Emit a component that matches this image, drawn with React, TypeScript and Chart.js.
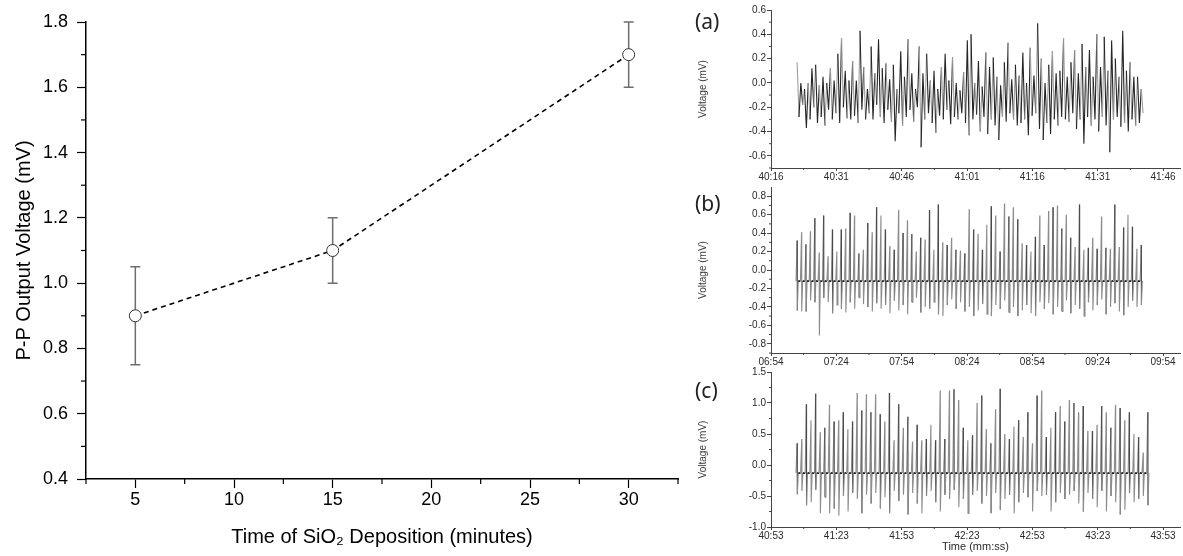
import React, { useEffect, useRef } from 'react';
import { Chart, registerables } from 'chart.js';

Chart.register(...registerables);

// ---------------- Main chart data ----------------
const DEPOSITION_MINUTES = [5, 15, 30];
const PP_VOLTAGE = [0.9, 1.1, 1.7];
const PP_ERROR = [0.15, 0.1, 0.1];
const MAIN_X_TICKS = [5, 10, 15, 20, 25, 30];
const MAIN_X_MINOR = [2.5, 7.5, 12.5, 17.5, 22.5, 27.5, 32.5];
const MAIN_Y_TICKS = [0.4, 0.6, 0.8, 1.0, 1.2, 1.4, 1.6, 1.8];
const MAIN_Y_MINOR = [0.5, 0.7, 0.9, 1.1, 1.3, 1.5, 1.7];

// ---------------- Panel (a) ----------------
const A_TIME_TICKS = ['40:16', '40:31', '40:46', '41:01', '41:16', '41:31', '41:46'];
const A_Y_TICKS = [-0.6, -0.4, -0.2, 0.0, 0.2, 0.4, 0.6];
const A_Y_MINOR = [-0.7, -0.5, -0.3, -0.1, 0.1, 0.3, 0.5];
const A_START = '40:22';
const A_END = '41:41';
const A_PEAKS = [
  0.17, 0.0, -0.05, 0.0, 0.12, 0.15, -0.02, 0.05, 0.0, 0.12,
  0.02, 0.24, 0.37, 0.1, 0.02, 0.18, 0.02, 0.43, 0.13, -0.05,
  0.3, 0.08, 0.36, 0.12, 0.16, 0.03, 0.15, -0.05, 0.26, 0.05,
  0.36, 0.08, -0.05, 0.3, 0.08, 0.24, 0.02, 0.1, -0.05, 0.13,
  0.24, 0.02, 0.21, 0.0, -0.06, 0.09, 0.35, 0.4, 0.0, 0.18,
  -0.03, 0.25, 0.13, 0.21, 0.05, -0.02, 0.17, 0.33, 0.03, 0.15,
  0.06, 0.25, 0.0, 0.29, 0.06, 0.49, 0.2, 0.0, 0.15, 0.26,
  0.08, 0.1, 0.37, 0.05, 0.17, 0.27, 0.08, 0.32, 0.13, 0.27,
  0.05, 0.4, 0.13, 0.38, 0.1, 0.35, 0.2, 0.05, 0.43, 0.1,
  0.17, 0.05, 0.05, -0.05,
];
const A_TROUGHS = [
  -0.28, -0.18, -0.37, -0.3, -0.2, -0.33, -0.28, -0.35, -0.22, -0.3,
  -0.25, -0.33, -0.2, -0.29, -0.3, -0.27, -0.33, -0.22, -0.3, -0.25,
  -0.3, -0.18, -0.28, -0.33, -0.22, -0.32, -0.48, -0.25, -0.35, -0.28,
  -0.22, -0.32, -0.2, -0.53, -0.3, -0.25, -0.33, -0.41, -0.27, -0.3,
  -0.22, -0.34, -0.28, -0.3, -0.25, -0.33, -0.43, -0.3, -0.26, -0.4,
  -0.28, -0.42, -0.3, -0.35, -0.47, -0.28, -0.32, -0.25, -0.3, -0.35,
  -0.33, -0.3, -0.43, -0.27, -0.25, -0.38, -0.47, -0.33, -0.42, -0.3,
  -0.35, -0.28, -0.3, -0.32, -0.25, -0.38, -0.3, -0.5, -0.28, -0.35,
  -0.3, -0.4, -0.28, -0.35, -0.57, -0.3, -0.28, -0.36, -0.33, -0.4,
  -0.3, -0.35, -0.33, -0.25,
];

// ---------------- Panel (b) ----------------
const B_TIME_TICKS = ['06:54', '07:24', '07:54', '08:24', '08:54', '09:24', '09:54'];
const B_Y_TICKS = [-0.8, -0.6, -0.4, -0.2, 0.0, 0.2, 0.4, 0.6, 0.8];
const B_Y_MINOR = [-0.9, -0.7, -0.5, -0.3, -0.1, 0.1, 0.3, 0.5, 0.7];
const B_START = '07:06';
const B_END = '09:44';
const B_BASELINE = -0.12;
const B_PEAKS = [
  0.32, 0.41, 0.28, 0.42, 0.56, 0.19, 0.59, 0.15, 0.44, 0.2,
  0.44, 0.45, 0.62, 0.59, 0.18, 0.22, 0.51, 0.41, 0.68, 0.59,
  0.44, 0.26, 0.22, 0.65, 0.4, 0.54, 0.39, 0.2, 0.35, 0.33,
  0.65, 0.22, 0.71, 0.3, 0.27, 0.35, 0.22, 0.21, 0.18, 0.66,
  0.44, 0.39, 0.22, 0.49, 0.69, 0.59, 0.2, 0.72, 0.58, 0.68,
  0.55, 0.29, 0.27, 0.2, 0.36, 0.59, 0.27, 0.64, 0.68, 0.7,
  0.45, 0.6, 0.35, 0.25, 0.71, 0.22, 0.24, 0.35, 0.23, 0.58,
  0.24, 0.23, 0.71, 0.25, 0.46, 0.6, 0.47, 0.23, 0.27,
];
const B_TROUGHS = [
  -0.44, -0.45, -0.45, -0.33, -0.35, -0.71, -0.3, -0.35, -0.47, -0.38,
  -0.42, -0.46, -0.35, -0.42, -0.3, -0.37, -0.4, -0.45, -0.36, -0.42,
  -0.38, -0.47, -0.33, -0.44, -0.38, -0.48, -0.35, -0.3, -0.46, -0.4,
  -0.42, -0.35, -0.48, -0.5, -0.38, -0.32, -0.42, -0.35, -0.45, -0.4,
  -0.5, -0.44, -0.37, -0.48, -0.5, -0.38, -0.42, -0.33, -0.46, -0.4,
  -0.5, -0.44, -0.38, -0.47, -0.5, -0.35, -0.42, -0.36, -0.48, -0.4,
  -0.45, -0.33, -0.47, -0.38, -0.42, -0.5, -0.35, -0.44, -0.38, -0.32,
  -0.48, -0.4, -0.36, -0.45, -0.49, -0.4, -0.33, -0.4, -0.38,
];

// ---------------- Panel (c) ----------------
const C_TIME_TICKS = ['40:53', '41:23', '41:53', '42:23', '42:53', '43:23', '43:53'];
const C_Y_TICKS = [-1.0, -0.5, 0.0, 0.5, 1.0, 1.5];
const C_Y_MINOR = [-0.75, -0.25, 0.25, 0.75, 1.25];
const C_START = '41:05';
const C_END = '43:46';
const C_BASELINE = -0.13;
const C_PEAKS = [
  0.35, 0.42, 0.98, 0.72, 1.15, 0.53, 0.6, 0.97, 0.7, 0.72,
  0.85, 0.58, 0.7, 1.16, 0.88, 1.14, 0.85, 1.14, 0.82, 0.7,
  1.16, 0.4, 0.98, 0.6, 0.78, 0.38, 0.65, 0.4, 0.42, 0.65,
  0.4, 1.2, 0.42, 1.2, 1.22, 1.05, 0.6, 0.4, 0.48, 1.0,
  1.12, 0.58, 0.35, 0.9, 1.23, 0.5, 0.42, 0.62, 0.72, 0.45,
  0.85, 0.35, 1.12, 1.2, 0.45, 0.6, 0.85, 0.95, 0.7, 1.05,
  1.0, 0.85, 0.95, 0.55, 0.55, 0.65, 0.95, 0.85, 0.6, 0.97,
  0.92, 0.72, 0.85, 0.5, 0.45, 0.2, 0.85,
];
const C_TROUGHS = [
  -0.47, -0.42, -0.65, -0.6, -0.4, -0.78, -0.52, -0.78, -0.7, -0.82,
  -0.5, -0.75, -0.45, -0.55, -0.78, -0.48, -0.62, -0.45, -0.7, -0.52,
  -0.78, -0.42, -0.58, -0.48, -0.8, -0.45, -0.62, -0.78, -0.5, -0.42,
  -0.6, -0.75, -0.48, -0.55, -0.4, -0.68, -0.55, -0.78, -0.48, -0.42,
  -0.62, -0.5, -0.78, -0.45, -0.72, -0.55, -0.48, -0.78, -0.6, -0.45,
  -0.52, -0.75, -0.42, -0.5, -0.48, -0.75, -0.6, -0.45, -0.55, -0.48,
  -0.42, -0.62, -0.75, -0.45, -0.55, -0.68, -0.42, -0.75, -0.5, -0.6,
  -0.8, -0.72, -0.45, -0.6, -0.55, -0.5, -0.65,
];

// ---------------- helpers ----------------
const FONT = '"Liberation Sans", Arial, sans-serif';

function parseTime(s: string): number {
  const [m, sec] = s.split(':').map(Number);
  return m * 60 + sec;
}

function sampleTimes(start: string, end: string, n: number): number[] {
  const t0 = parseTime(start);
  const t1 = parseTime(end);
  const out: number[] = [];
  for (let i = 0; i < n; i++) out.push(t0 + ((t1 - t0) * i) / (n - 1));
  return out;
}

const minorTickPlugin = {
  id: 'minorTicks',
  afterDatasetsDraw(chart: any, _args: any, opts: any) {
    const ctx = chart.ctx;
    ctx.save();
    ctx.strokeStyle = opts.color || '#000';
    ctx.lineWidth = opts.width || 1;
    const xs = chart.scales.x;
    const ys = chart.scales.y;
    (opts.x || []).forEach((v: number) => {
      const px = xs.getPixelForValue(v);
      ctx.beginPath();
      ctx.moveTo(px, xs.top);
      ctx.lineTo(px, xs.top + opts.len);
      ctx.stroke();
    });
    (opts.y || []).forEach((v: number) => {
      const py = ys.getPixelForValue(v);
      ctx.beginPath();
      ctx.moveTo(ys.right - opts.len, py);
      ctx.lineTo(ys.right, py);
      ctx.stroke();
    });
    ctx.restore();
  },
};

const errorBarPlugin = {
  id: 'errorBars',
  beforeDatasetsDraw(chart: any) {
    const ctx = chart.ctx;
    const xs = chart.scales.x;
    const ys = chart.scales.y;
    ctx.save();
    ctx.strokeStyle = '#6e6e6e';
    ctx.lineWidth = 1.5;
    DEPOSITION_MINUTES.forEach((m, i) => {
      const px = xs.getPixelForValue(m);
      const top = ys.getPixelForValue(PP_VOLTAGE[i] + PP_ERROR[i]);
      const bot = ys.getPixelForValue(PP_VOLTAGE[i] - PP_ERROR[i]);
      ctx.beginPath();
      ctx.moveTo(px, top);
      ctx.lineTo(px, bot);
      ctx.moveTo(px - 5, top);
      ctx.lineTo(px + 5, top);
      ctx.moveTo(px - 5, bot);
      ctx.lineTo(px + 5, bot);
      ctx.stroke();
    });
    ctx.restore();
  },
};

// ---------------- Main chart ----------------
function MainChart() {
  const ref = useRef<HTMLCanvasElement>(null);
  useEffect(() => {
    const chart = new Chart(ref.current as HTMLCanvasElement, {
      type: 'line',
      data: {
        datasets: [
          {
            data: DEPOSITION_MINUTES.map((x, i) => ({ x, y: PP_VOLTAGE[i] })),
            borderColor: '#000',
            borderWidth: 1.6,
            borderDash: [5, 4],
            pointRadius: 6,
            pointBackgroundColor: '#fff',
            pointBorderColor: '#333',
            pointBorderWidth: 1,
            tension: 0,
            fill: false,
          },
        ],
      },
      options: {
        responsive: false,
        animation: false,
        layout: { padding: { top: 22, right: 12, left: 0, bottom: 0 }, autoPadding: false },
        plugins: {
          legend: { display: false },
          tooltip: { enabled: false },
          minorTicks: { x: MAIN_X_MINOR, y: MAIN_Y_MINOR, len: 5, color: '#000', width: 1.2 },
        } as any,
        scales: {
          x: {
            type: 'linear',
            min: 2.5,
            max: 32.5,
            afterBuildTicks: (s: any) => {
              s.ticks = MAIN_X_TICKS.map((v) => ({ value: v }));
            },
            afterFit: (s: any) => {
              s.height = 77;
            },
            ticks: {
              autoSkip: false,
              maxRotation: 0,
              padding: 1,
              color: '#000',
              font: { family: FONT, size: 18 },
              callback: (v: any) => String(v),
            },
            grid: { drawOnChartArea: false, drawTicks: true, tickLength: 9, tickColor: '#000', tickWidth: 1.2 },
            border: { display: true, color: '#000', width: 1.5 },
            title: {
              display: true,
              text: 'Time of SiO\u2082 Deposition (minutes)',
              color: '#000',
              font: { family: FONT, size: 20 },
              padding: { top: 0, bottom: 7 },
            },
          },
          y: {
            type: 'linear',
            min: 0.4,
            max: 1.8,
            afterBuildTicks: (s: any) => {
              s.ticks = MAIN_Y_TICKS.map((v) => ({ value: v }));
            },
            afterFit: (s: any) => {
              s.width = 86;
            },
            ticks: {
              autoSkip: false,
              padding: 9,
              color: '#000',
              font: { family: FONT, size: 18 },
              callback: (v: any) => Number(v).toFixed(1),
            },
            grid: { drawOnChartArea: false, drawTicks: true, tickLength: 9, tickColor: '#000', tickWidth: 1.2 },
            border: { display: true, color: '#000', width: 1.5 },
            title: {
              display: true,
              text: 'P-P Output Voltage (mV)',
              color: '#000',
              font: { family: FONT, size: 20 },
              padding: { top: 12, bottom: 0 },
            },
          },
        },
      } as any,
      plugins: [errorBarPlugin, minorTickPlugin],
    });
    return () => chart.destroy();
  }, []);
  return (
    <canvas
      ref={ref}
      width={690}
      height={556}
      style={{ position: 'absolute', left: 0, top: 0, width: 690, height: 556 }}
    />
  );
}

// ---------------- Signal panels ----------------
type PanelProps = {
  top: number;
  height: number;
  padTop: number;
  xHeight: number;
  timeTicks: string[];
  yTicks: number[];
  yMinor: number[];
  yMin: number;
  yMax: number;
  start: string;
  end: string;
  peaks: number[];
  troughs: number[];
  baseline: number | null;
  xTitle?: string;
};

function buildTrace(p: PanelProps) {
  const times = sampleTimes(p.start, p.end, p.peaks.length);
  const step = times.length > 1 ? times[1] - times[0] : 1;
  const pts: { x: number; y: number }[] = [];
  times.forEach((t, i) => {
    if (p.baseline === null) {
      pts.push({ x: t, y: p.peaks[i] });
      pts.push({ x: t + step * 0.5, y: p.troughs[i] });
    } else {
      pts.push({ x: t - step * 0.25, y: p.baseline });
      pts.push({ x: t, y: p.peaks[i] });
      pts.push({ x: t + step * 0.04, y: p.troughs[i] });
      pts.push({ x: t + step * 0.25, y: p.baseline });
    }
  });
  return pts;
}

function SignalPanel(p: PanelProps) {
  const ref = useRef<HTMLCanvasElement>(null);
  useEffect(() => {
    const xTickVals = p.timeTicks.map(parseTime);
    const span = xTickVals[1] - xTickVals[0];
    const xMin = xTickVals[0];
    const xMax = xTickVals[xTickVals.length - 1] + span * 0.26;
    const xMinor: number[] = [];
    for (let i = 0; i < xTickVals.length; i++) xMinor.push(xTickVals[i] + span / 2);
    const data = buildTrace(p);
    const base = p.baseline;
    const isBase = (ctx: any) =>
      base !== null &&
      Math.abs(ctx.p0.parsed.y - base) < 0.01 &&
      Math.abs(ctx.p1.parsed.y - base) < 0.01;
    const chart = new Chart(ref.current as HTMLCanvasElement, {
      type: 'line',
      data: {
        datasets: [
          {
            data,
            borderColor: '#555',
            borderWidth: 1.1,
            pointRadius: 0,
            tension: 0,
            fill: false,
            segment: {
              borderColor: (ctx: any) => {
                if (base === null) {
                  return ctx.p0DataIndex % 3 === 0 ? '#a0a0a0' : '#262626';
                }
                if (isBase(ctx)) return '#1e1e1e';
                return ctx.p0DataIndex % 8 === 1 ? '#4a4a4a' : '#8c8c8c';
              },
              borderWidth: (ctx: any) => (isBase(ctx) ? 1.8 : 1.1),
            },
          },
        ],
      },
      options: {
        responsive: false,
        animation: false,
        layout: { padding: { top: p.padTop, right: 3, left: 0, bottom: 0 }, autoPadding: false },
        plugins: {
          legend: { display: false },
          tooltip: { enabled: false },
          minorTicks: { x: xMinor, y: p.yMinor, len: 2, color: '#444', width: 1 },
        } as any,
        scales: {
          x: {
            type: 'linear',
            min: xMin,
            max: xMax,
            afterBuildTicks: (s: any) => {
              s.ticks = xTickVals.map((v) => ({ value: v }));
            },
            afterFit: (s: any) => {
              s.height = p.xHeight;
            },
            ticks: {
              autoSkip: false,
              maxRotation: 0,
              padding: 0,
              color: '#2a2a2a',
              font: { family: FONT, size: 10 },
              callback: (_v: any, i: number) => p.timeTicks[i],
            },
            grid: { drawOnChartArea: false, drawTicks: true, tickLength: 3, tickColor: '#444', tickWidth: 1 },
            border: { display: true, color: '#444', width: 1 },
            title: p.xTitle
              ? {
                  display: true,
                  text: p.xTitle,
                  color: '#2a2a2a',
                  font: { family: FONT, size: 11 },
                  padding: { top: 0, bottom: 2 },
                }
              : { display: false },
          },
          y: {
            type: 'linear',
            min: p.yMin,
            max: p.yMax,
            afterBuildTicks: (s: any) => {
              s.ticks = p.yTicks.map((v) => ({ value: v }));
            },
            afterFit: (s: any) => {
              s.width = 81;
            },
            ticks: {
              autoSkip: false,
              padding: 1,
              color: '#2a2a2a',
              font: { family: FONT, size: 10 },
              callback: (v: any) => Number(v).toFixed(1),
            },
            grid: { drawOnChartArea: false, drawTicks: true, tickLength: 4, tickColor: '#444', tickWidth: 1 },
            border: { display: true, color: '#444', width: 1 },
            title: {
              display: true,
              text: 'Voltage (mV)',
              color: '#3a3a3a',
              font: { family: FONT, size: 10 },
              padding: { top: 7, bottom: 0 },
            },
          },
        },
      } as any,
      plugins: [minorTickPlugin],
    });
    return () => chart.destroy();
  }, []);
  return (
    <canvas
      ref={ref}
      width={493}
      height={p.height}
      style={{ position: 'absolute', left: 690, top: p.top, width: 493, height: p.height }}
    />
  );
}

const panelLabelStyle: React.CSSProperties = {
  position: 'absolute',
  left: 695,
  fontFamily: '"Noto Sans", "Open Sans", sans-serif',
  fontSize: 21,
  lineHeight: '21px',
  color: '#222',
};

export default function App() {
  return (
    <div
      style={{
        position: 'fixed',
        left: 0,
        top: 0,
        width: 1183,
        height: 556,
        background: '#fff',
        overflow: 'hidden',
      }}
    >
      <MainChart />
      <SignalPanel
        top={0}
        height={190}
        padTop={10}
        xHeight={22}
        timeTicks={A_TIME_TICKS}
        yTicks={A_Y_TICKS}
        yMinor={A_Y_MINOR}
        yMin={-0.7}
        yMax={0.6}
        start={A_START}
        end={A_END}
        peaks={A_PEAKS}
        troughs={A_TROUGHS}
        baseline={null}
      />
      <SignalPanel
        top={180}
        height={190}
        padTop={4.75}
        xHeight={17}
        timeTicks={B_TIME_TICKS}
        yTicks={B_Y_TICKS}
        yMinor={B_Y_MINOR}
        yMin={-0.9}
        yMax={0.9}
        start={B_START}
        end={B_END}
        peaks={B_PEAKS}
        troughs={B_TROUGHS}
        baseline={B_BASELINE}
      />
      <SignalPanel
        top={362}
        height={194}
        padTop={10}
        xHeight={29}
        timeTicks={C_TIME_TICKS}
        yTicks={C_Y_TICKS}
        yMinor={C_Y_MINOR}
        yMin={-1.0}
        yMax={1.5}
        start={C_START}
        end={C_END}
        peaks={C_PEAKS}
        troughs={C_TROUGHS}
        baseline={C_BASELINE}
        xTitle="Time (mm:ss)"
      />
      <div style={{ ...panelLabelStyle, top: 11 }}>(a)</div>
      <div style={{ ...panelLabelStyle, top: 193 }}>(b)</div>
      <div style={{ ...panelLabelStyle, top: 380 }}>(c)</div>
    </div>
  );
}
